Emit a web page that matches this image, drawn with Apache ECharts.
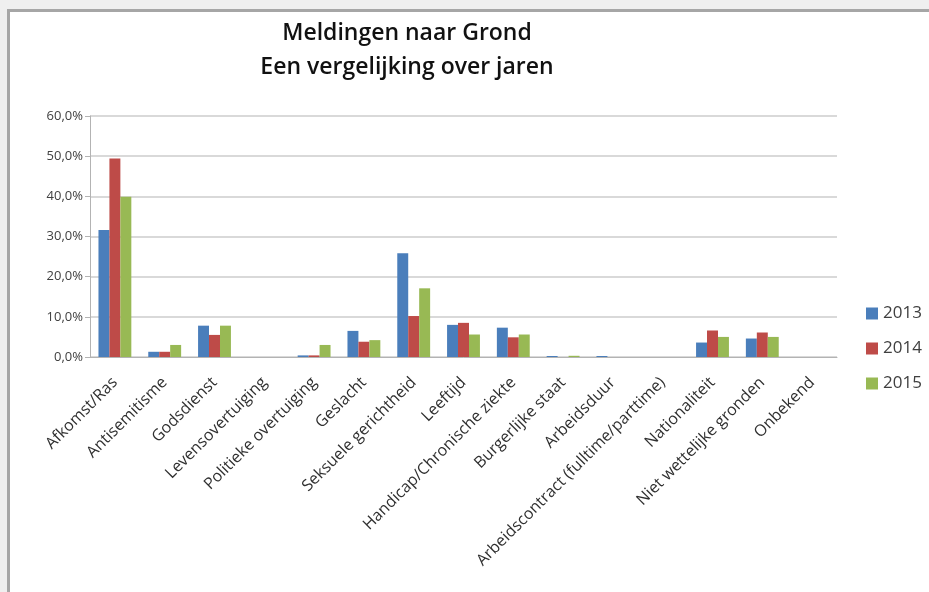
<!DOCTYPE html>
<html><head><meta charset="utf-8">
<script src="https://cdn.jsdelivr.net/npm/echarts@6/dist/echarts.min.js"></script>
<style>html,body{margin:0;padding:0;background:#efefef;overflow:hidden;}#c{width:929px;height:592px;}</style>
</head><body><div id="c"></div>
<script>
const categories = ["Afkomst/Ras","Antisemitisme","Godsdienst","Levensovertuiging","Politieke overtuiging","Geslacht","Seksuele gerichtheid","Leeftijd","Handicap/Chronische ziekte","Burgerlijke staat","Arbeidsduur","Arbeidscontract (fulltime/parttime)","Nationaliteit","Niet wettelijke gronden","Onbekend"];
const years = ["2013","2014","2015"];
const values2013 = [31.6,1.3,7.8,0,0.4,6.5,25.8,8.0,7.3,0.25,0.25,0,3.6,4.6,0];
const values2014 = [49.4,1.3,5.5,0,0.4,3.8,10.2,8.5,4.9,0,0,0,6.6,6.1,0];
const values2015 = [39.9,3.0,7.8,0,3.0,4.2,17.1,5.6,5.6,0.3,0,0,5.0,5.0,0];
const colors = ["#4a7ebb","#be4b48","#98b954"];
const font = "'Open Sans', sans-serif";

const chart = echarts.init(document.getElementById('c'), null, {renderer:'canvas'});
chart.setOption({
  animation:false,
  backgroundColor:'#efefef',
  graphic:[{type:'rect',z:-10,shape:{x:8.5,y:10.5,width:1000,height:700},style:{fill:'#ffffff',stroke:'#a6a6a6',lineWidth:3}}],
  title:{text:'Meldingen naar Grond\nEen vergelijking over jaren',left:402,textAlign:'center',top:11,
    textStyle:{fontFamily:font,fontSize:23,fontWeight:600,color:'#111',lineHeight:34}},
  legend:{orient:'vertical',left:861,top:300,itemWidth:12,itemHeight:12,itemGap:18,icon:'rect',
    textStyle:{fontFamily:font,fontSize:17,color:'#404040',lineHeight:17},data:years},
  grid:{left:90,right:92,top:116,bottom:235,containLabel:false},
  xAxis:{type:'category',data:categories,
    axisLine:{lineStyle:{color:'#b3b3b3',width:1}},axisTick:{show:false},
    axisLabel:{rotate:45,interval:0,fontFamily:font,fontSize:16,color:'#303030',margin:23}},
  yAxis:{type:'value',min:0,max:60,interval:10,
    axisLine:{show:true,lineStyle:{color:'#b3b3b3'}},
    axisTick:{show:true,inside:false,length:5,lineStyle:{color:'#b3b3b3'}},
    splitLine:{lineStyle:{color:'#d9d9d9',width:2}},
    axisLabel:{fontFamily:font,fontSize:13,color:'#404040',margin:7,
      formatter:v=>v.toFixed(1).replace('.',',')+'%'}},
  series:[
    {name:years[0],type:'bar',data:values2013,itemStyle:{color:colors[0]},barGap:'0%',barCategoryGap:'34%'},
    {name:years[1],type:'bar',data:values2014,itemStyle:{color:colors[1]},barGap:'0%',barCategoryGap:'34%'},
    {name:years[2],type:'bar',data:values2015,itemStyle:{color:colors[2]},barGap:'0%',barCategoryGap:'34%'}
  ]
});
</script></body></html>
